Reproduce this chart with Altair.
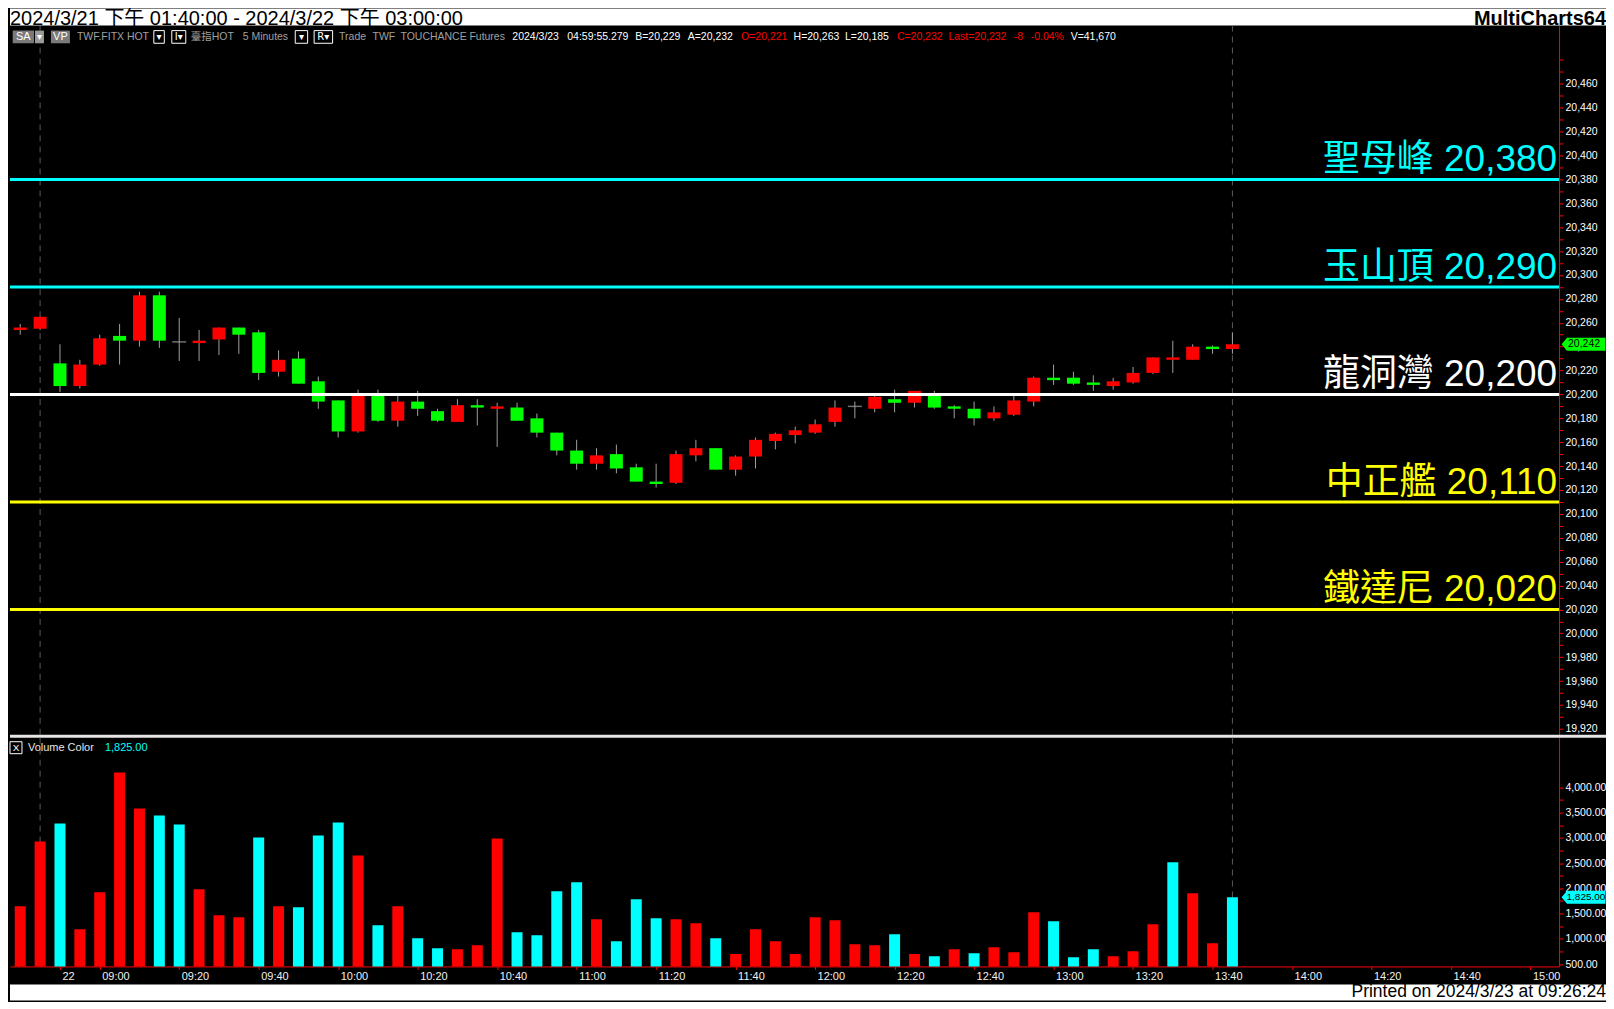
import altair as alt
import pandas as pd

# ---------------- data ----------------
opens = [20254, 20255, 20226, 20207, 20225, 20249, 20245, 20283, 20244, 20243, 20246,
         20256, 20252, 20219, 20230, 20211, 20195, 20169, 20199, 20178, 20194,
         20186, 20177, 20191, 20188, 20189, 20180, 20168, 20153, 20142, 20150,
         20139, 20127, 20126, 20149, 20155, 20137, 20148, 20161, 20166, 20168,
         20177, 20190, 20188, 20196, 20193, 20199, 20190, 20188, 20180, 20183,
         20194, 20214, 20214, 20210, 20207, 20210, 20218, 20229, 20229, 20240, 20238]
highs = [20259, 20265, 20242, 20229, 20250, 20259, 20286, 20286, 20264, 20254, 20256,
         20256, 20254, 20237, 20236, 20215, 20195, 20204, 20204, 20199, 20203,
         20188, 20196, 20196, 20193, 20193, 20184, 20168, 20162, 20155, 20158,
         20142, 20142, 20153, 20162, 20155, 20149, 20164, 20168, 20173, 20179,
         20195, 20194, 20199, 20204, 20203, 20203, 20191, 20194, 20190, 20199,
         20215, 20225, 20219, 20216, 20214, 20223, 20231, 20245, 20242, 20241, 20252]
lows = [20250, 20254, 20202, 20205, 20224, 20225, 20240, 20239, 20228, 20228, 20233,
        20234, 20212, 20215, 20209, 20188, 20164, 20168, 20177, 20173, 20182,
        20177, 20177, 20174, 20156, 20178, 20164, 20149, 20137, 20137, 20134,
        20127, 20122, 20125, 20144, 20137, 20132, 20138, 20154, 20159, 20167,
        20173, 20180, 20185, 20185, 20189, 20188, 20180, 20174, 20178, 20182,
        20190, 20208, 20208, 20203, 20204, 20209, 20217, 20218, 20229, 20234, 20234]
closes = [20256, 20265, 20207, 20225, 20247, 20245, 20283, 20245, 20244, 20245, 20256,
          20250, 20218, 20229, 20209, 20194, 20169, 20199, 20178, 20194, 20188,
          20178, 20191, 20189, 20190, 20178, 20168, 20153, 20142, 20149, 20138,
          20127, 20125, 20150, 20155, 20137, 20148, 20162, 20167, 20170, 20175,
          20189, 20190, 20198, 20193, 20203, 20189, 20188, 20180, 20185, 20195,
          20214, 20212, 20209, 20208, 20211, 20218, 20231, 20231, 20240, 20238, 20242]
volumes = [1645, 2928, 3283, 1191, 1921, 4290, 3580, 3441, 3264, 1981, 1467,
           1428, 3007, 1645, 1625, 3047, 3303, 2652, 1270, 1645, 1013,
           816, 796, 875, 2987, 1132, 1073, 1941, 2119, 1388, 954,
           1783, 1408, 1388, 1310, 1013, 698, 1191, 954, 698, 1428,
           1369, 895, 875, 1092, 698, 658, 796, 717, 836, 737,
           1527, 1349, 638, 796, 658, 757, 1290, 2514, 1902, 915, 1825]
vol_side = ["up", "up", "down", "up", "up", "up", "up", "down", "down", "up", "up",
            "up", "down", "up", "down", "down", "down", "up", "down", "up", "down",
            "down", "up", "up", "up", "down", "down", "down", "down", "up", "down",
            "down", "down", "up", "up", "down", "up", "up", "up", "up", "up",
            "up", "up", "up", "down", "up", "down", "up", "down", "up", "up",
            "up", "down", "down", "down", "up", "up", "up", "down", "up", "up", "down"]
bars = list(range(len(opens)))
session_bars = [1, 61]

tick_bars = [2, 4, 8, 12, 16, 20, 24, 28, 32, 36, 40, 44, 48, 52, 56, 60, 64, 68, 72, 76]
tick_labels = ["22", "09:00", "09:20", "09:40", "10:00", "10:20", "10:40", "11:00", "11:20",
               "11:40", "12:00", "12:20", "12:40", "13:00", "13:20", "13:40", "14:00",
               "14:20", "14:40", "15:00"]

level_names = ["聖母峰", "玉山頂", "龍洞灣", "中正艦", "鐵達尼"]
level_values = [20380, 20290, 20200, 20110, 20020]
level_colors = ["#00FFFF", "#00FFFF", "#FFFFFF", "#FFFF00", "#FFFF00"]

title_text = "2024/3/21 下午 01:40:00 - 2024/3/22 下午 03:00:00"
brand_text = "MultiCharts64"
printed_text = "Printed on 2024/3/23 at 09:26:24"

info_gray = ["TWF.FITX HOT", "臺指HOT", "5 Minutes", "Trade", "TWF", "TOUCHANCE", "Futures"]
info_quote = ["2024/3/23", "04:59:55.279", "B=20,229", "A=20,232", "O=20,221", "H=20,263",
              "L=20,185", "C=20,232", "Last=20,232", "-8", "-0.04%", "V=41,670"]
info_quote_red = [False, False, False, False, True, False, False, True, True, True, True, False]

# ---------------- layout ----------------
W = 1551      # plot width (both panels)
PH = 710      # price panel height
VH = 229      # volume panel height
FULLW = 1598  # whole chart width
SANS = "Liberation Sans, Arial, sans-serif"
CJK = "Liberation Sans, Noto Sans CJK TC, sans-serif"
RED = "#FF0000"

xs = alt.Scale(domain=[-0.515, 77.437], nice=False, zero=False, padding=0)
ps = alt.Scale(domain=[19915.1, 20508.8], nice=False, zero=False)
vs = alt.Scale(domain=[454.6, 4981], nice=False, zero=False)

df = pd.DataFrame(dict(bar=bars, open=opens, high=highs, low=lows, close=closes,
                       volume=volumes, vside=vol_side))
df["dir"] = ["up" if c > o else ("down" if c < o else "flat") for o, c in zip(opens, closes)]

lv = pd.DataFrame(dict(name=level_names, level=level_values))
lv["label"] = [f"{n} {v:,}" for n, v in zip(level_names, level_values)]
sess = pd.DataFrame(dict(bar=session_bars))
last_price = pd.DataFrame(dict(value=[closes[-1]]))
last_vol = pd.DataFrame(dict(value=[volumes[-1]]))
one = pd.DataFrame({"k": [0]})

price_ticks = [19920 + 10 * k for k in range(57)]
vol_ticks = [500 + 250 * k for k in range(15)]

price_axis = alt.Axis(orient="right", values=price_ticks, title=None, grid=False,
                      labelExpr="datum.value % 20 == 0 && datum.value <= 20460 ? format(datum.value, ',') : ''",
                      domainColor=RED, tickColor=RED, tickSize=4, labelColor="#FFFFFF",
                      labelFont=SANS, labelFontSize=10.5, labelPadding=2,
                      labelOverlap=False, labelFlush=False)
vol_axis = alt.Axis(orient="right", values=vol_ticks, title=None, grid=False,
                    labelExpr="datum.value % 500 == 0 ? format(datum.value, ',.2f') : ''",
                    domainColor=RED, tickColor=RED, tickSize=4, labelColor="#FFFFFF",
                    labelFont=SANS, labelFontSize=10.5, labelPadding=2,
                    labelOverlap=False, labelFlush=False)
x_label_expr = ("[" + ",".join(f"'{s}'" for s in tick_labels) + "][indexof(["
                + ",".join(str(b) for b in tick_bars) + "], datum.value)]")
x_axis = alt.Axis(values=tick_bars, labelExpr=x_label_expr, title=None, grid=False,
                  domainColor=RED, tickColor=RED, tickSize=3, labelColor="#F0F0F0",
                  labelFont=SANS, labelFontSize=11, labelPadding=1, labelAlign="left",
                  labelOffset=2, labelOverlap=False, labelFlush=False)

TAG = "M-1,0L-0.75,-0.295L1,-0.295L1,0.295L-0.75,0.295Z"


def box(x0, x1, y0, y1, fill, stroke=None):
    kw = dict(fill=fill)
    if stroke:
        kw.update(stroke=stroke, strokeWidth=1)
    return alt.Chart(one).mark_rect(**kw).encode(
        x=alt.value(x0), x2=alt.value(x1), y=alt.value(y0), y2=alt.value(y1))


def label(s, x, y, color, size, font=SANS, align="left", baseline="middle", weight="normal"):
    return alt.Chart(one).mark_text(text=s, align=align, baseline=baseline, color=color,
                                    fontSize=size, font=font, fontWeight=weight).encode(
        x=alt.value(x), y=alt.value(y))


# ---------------- price panel ----------------
title_bar = box(0, FULLW, -17, 0, "#FFFFFF")
title_lbl = label(title_text, 0, -1, "#000000", 20, font=CJK, baseline="alphabetic")
brand_lbl = label(brand_text, FULLW, -1, "#000000", 20, align="right", baseline="alphabetic",
                  weight="bold")

PX = alt.X("bar:Q", scale=xs, axis=None)

dash_p = alt.Chart(sess).mark_rule(color="#5a5a5a", strokeWidth=1, strokeDash=[6, 5]).encode(x=PX)

wick = alt.Chart(df).mark_rule(color="#A0A0A0", strokeWidth=1).encode(
    x=PX, y=alt.Y("low:Q", scale=ps, axis=price_axis), y2="high:Q")
body = alt.Chart(df).transform_filter("datum.open != datum.close").mark_bar(size=13).encode(
    x=PX,
    y=alt.Y("open:Q", scale=ps, axis=price_axis),
    y2="close:Q",
    color=alt.Color("dir:N", scale=alt.Scale(domain=["up", "down"], range=[RED, "#00FF00"]),
                    legend=None))
doji = alt.Chart(df).transform_filter("datum.open == datum.close").mark_tick(
    orient="horizontal", size=14, thickness=1.5, color="#A0A0A0").encode(
    x=PX, y=alt.Y("close:Q", scale=ps, axis=price_axis))

lvl_scale = alt.Scale(domain=level_names, range=level_colors)
lvl_rule = alt.Chart(lv).mark_rule(strokeWidth=3).encode(
    y=alt.Y("level:Q", scale=ps, axis=price_axis),
    stroke=alt.Stroke("name:N", scale=lvl_scale, legend=None))
lvl_text = alt.Chart(lv).mark_text(align="right", baseline="alphabetic", dy=-8, fontSize=37,
                                   font=CJK).encode(
    x=alt.value(W - 2),
    y=alt.Y("level:Q", scale=ps, axis=price_axis),
    text="label:N",
    fill=alt.Fill("name:N", scale=lvl_scale, legend=None))

ptag = alt.Chart(last_price).mark_point(shape=TAG, size=44 * 44, filled=True, fill="#00FF00",
                                        strokeWidth=0, opacity=1).encode(
    x=alt.value(1575.5), y=alt.Y("value:Q", scale=ps, axis=price_axis))
ptag_txt = alt.Chart(last_price).mark_text(align="left", baseline="middle", fontSize=10.5,
                                           font=SANS, color="#000000").encode(
    x=alt.value(1560), y=alt.Y("value:Q", scale=ps, axis=price_axis),
    text=alt.Text("value:Q", format=","))

# info bar (toolbar of the chart window)
IY0, IY1, IYC = 5, 17.7, 11
info_layers = [
    box(2.7, 24, IY0, IY1, "#7A7A7A"), label("SA", 13.3, IYC, "#FFFFFF", 11, align="center"),
    box(25, 34, IY0, IY1, "#9A9A9A"), label("▾", 29.5, IYC, "#FFFFFF", 10, font="DejaVu Sans", align="center"),
    box(41, 60, IY0, IY1, "#7A7A7A"), label("VP", 50.5, IYC, "#FFFFFF", 11, align="center"),
    box(144, 154.5, IY0, IY1, "#000000", "#FFFFFF"), label("▾", 149.2, IYC, "#FFFFFF", 10, font="DejaVu Sans", align="center"),
    box(162, 176, IY0, IY1, "#000000", "#FFFFFF"), label("I▾", 169, IYC, "#FFFFFF", 10, font="DejaVu Sans", align="center"),
    box(285.6, 298, IY0, IY1, "#000000", "#FFFFFF"), label("▾", 291.8, IYC, "#FFFFFF", 10, font="DejaVu Sans", align="center"),
    box(304.5, 323, IY0, IY1, "#000000", "#FFFFFF"), label("R▾", 313.7, IYC, "#FFFFFF", 10, font="DejaVu Sans", align="center"),
]
gray_x = [67, 181, 233, 329.5, 363, 391, 460]
for s, x in zip(info_gray, gray_x):
    info_layers.append(label(s, x, IYC, "#A0A0A0", 10.5, font=CJK))
quote_x = [503, 558, 626, 678.6, 732, 784.6, 836, 888, 939.6, 1005, 1022, 1062]
for s, x, r in zip(info_quote, quote_x, info_quote_red):
    info_layers.append(label(s, x, IYC, RED if r else "#FFFFFF", 10.5))

price = alt.layer(title_bar, title_lbl, brand_lbl, dash_p, wick, body, doji, lvl_rule, lvl_text,
                  ptag, ptag_txt, *info_layers).properties(width=W, height=PH).resolve_scale(
    color="independent", stroke="independent", fill="independent")

# ---------------- volume panel ----------------
sep = box(0, FULLW, -3, 0, "#E6E6E6")
bottom_bar = box(0, FULLW, 247, 263, "#FFFFFF")
printed = label(printed_text, FULLW, 260, "#000000", 17.5, align="right", baseline="alphabetic")

VX = alt.X("bar:Q", scale=xs, axis=x_axis)

dash_v = alt.Chart(sess).mark_rule(color="#5a5a5a", strokeWidth=1, strokeDash=[6, 5]).encode(x=VX)
vbars = alt.Chart(df).mark_bar(size=11, clip=True).encode(
    x=VX,
    y=alt.Y("volume:Q", scale=vs, axis=vol_axis),
    y2=alt.value(VH),
    color=alt.Color("vside:N", scale=alt.Scale(domain=["up", "down"], range=[RED, "#00FFFF"]),
                    legend=None))
vtag = alt.Chart(last_vol).mark_point(shape=TAG, size=44 * 44, filled=True, fill="#00FFFF",
                                      strokeWidth=0, opacity=1).encode(
    x=alt.value(1575.5), y=alt.Y("value:Q", scale=vs, axis=vol_axis))
vtag_txt = alt.Chart(last_vol).mark_text(align="left", baseline="middle", fontSize=10,
                                         font=SANS, color="#000000").encode(
    x=alt.value(1558.5), y=alt.Y("value:Q", scale=vs, axis=vol_axis),
    text=alt.Text("value:Q", format=",.2f"))

vol_title = [
    box(0, 12, 4, 16, "#000000", "#FFFFFF"),
    label("X", 6, 10, "#FFFFFF", 10, align="center"),
    label("Volume Color", 18, 10, "#E6E6E6", 11),
    label(f"{volumes[-1]:,.2f}", 95, 10, "#00FFFF", 11),
]

volume = alt.layer(sep, bottom_bar, printed, dash_v, vbars, vtag, vtag_txt, *vol_title).properties(
    width=W, height=VH)

chart = alt.vconcat(price, volume, spacing=3, bounds="flush", padding=0).resolve_scale(
    color="independent").configure(background="#000000").configure_view(stroke=None, fill="#000000")

chart.save("out.html", embed_options={"renderer": "svg", "actions": False})
